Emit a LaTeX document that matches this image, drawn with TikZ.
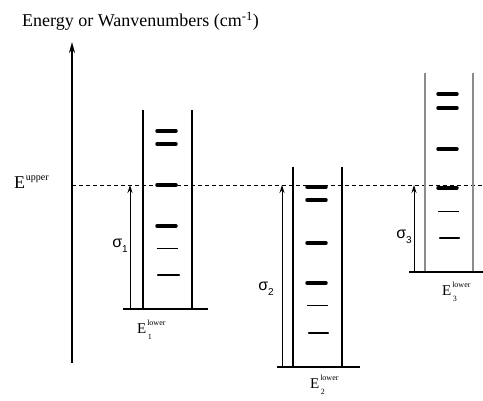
\documentclass[tikz,border=0pt]{standalone}
\usepackage{fontspec}
\setmainfont{Liberation Serif}
\newfontfamily\sansgr{Liberation Sans}
\usetikzlibrary{arrows.meta}
\newcommand{\sigmalab}[1]{{\sansgr\fontsize{16}{16}\selectfont σ\raisebox{-5pt}{\fontsize{10}{10}\selectfont #1}}}
\begin{document}
\begin{tikzpicture}[x=1pt,y=-1pt,
  wall/.style={line width=1.2pt},
  wallgrey/.style={line width=1.5pt, draw=black!45},
  baseline/.style={line width=1.2pt},
  thicklev/.style={line width=3.5pt, line cap=round},
  thinlev/.style={line width=1pt},
  medlev/.style={line width=2.4pt, line cap=round},
  trans/.style={line width=1pt, -{Stealth[length=8pt,width=5pt]}},
  axisarrow/.style={line width=1.8pt, -{Stealth[length=11pt,width=6pt]}},
  upperline/.style={line width=0.9pt, dash pattern=on 4pt off 3pt},
  lbl/.style={inner sep=0pt},
  bigE/.style={lbl, anchor=base west, font=\fontsize{15}{15}\selectfont},
  scriptlbl/.style={lbl, anchor=base west, font=\fontsize{8}{8}\selectfont},
]
\useasboundingbox (0,0) rectangle (483,401);
% title and axis
\node[lbl, anchor=base west] (title) at (22,27) {\fontsize{18}{20}\selectfont Energy or Wanvenumbers (cm\textsuperscript{-1})};
\coordinate (axb) at (72,363);
\coordinate (axt) at (72,42);
\draw[axisarrow] (axb) -- (axt);
% upper level
\node[lbl, anchor=base west] (eup) at (14,189) {\fontsize{18}{20}\selectfont E};
\node[lbl, anchor=base west, font=\fontsize{10}{10}\selectfont] (eupsup) at ([xshift=0.3pt,yshift=8pt]eup.base east) {upper};
\coordinate (dl) at (72,185);
\coordinate (dr) at (483,185);
\draw[upperline] (dl) -- (dr);

% column 1
\draw[wall] (143,110) -- (143,309);
\draw[wall] (192,110) -- (192,309);
\coordinate (b1l) at (123,309);
\coordinate (b1r) at (208,309);
\draw[baseline] (b1l) -- (b1r);
\foreach \y in {131,144,185,226} \draw[thicklev] (157,\y) -- (176,\y);
\draw[thinlev] (157,249) -- (178,249);
\draw[medlev] (158,275) -- (179,275);
\coordinate (a1s) at (130,309);
\coordinate (a1e) at (130,185);
\draw[trans] (a1s) -- (a1e);
\node[lbl] (s1) at (120,246) {\sigmalab{1}};
\node[bigE] (e1) at (137,334) {E};
\node[scriptlbl] (e1sup) at ([xshift=0.5pt,yshift=8pt]e1.base east) {lower};
\node[scriptlbl] (e1sub) at ([xshift=1pt,yshift=-6pt]e1.base east) {1};

% column 2
\draw[wall] (293,167) -- (293,367);
\draw[wall] (342,167) -- (342,367);
\coordinate (b2l) at (277,367);
\coordinate (b2r) at (360,367);
\draw[baseline] (b2l) -- (b2r);
\foreach \y in {187,200,243,283} \draw[thicklev] (307,\y) -- (326,\y);
\draw[thinlev] (307,306) -- (328,306);
\draw[medlev] (309,333) -- (328,333);
\coordinate (a2s) at (282,367);
\coordinate (a2e) at (282,185);
\draw[trans] (a2s) -- (a2e);
\node[lbl] (s2) at (266,289) {\sigmalab{2}};
\node[bigE] (e2) at (310,389) {E};
\node[scriptlbl] (e2sup) at ([xshift=0.5pt,yshift=8pt]e2.base east) {lower};
\node[scriptlbl] (e2sub) at ([xshift=1pt,yshift=-6pt]e2.base east) {2};

% column 3
\draw[wallgrey] (425,73) -- (425,272);
\draw[wallgrey] (473,73) -- (473,272);
\coordinate (b3l) at (409,272);
\coordinate (b3r) at (483,272);
\draw[baseline] (b3l) -- (b3r);
\foreach \y in {94,108,149,188} \draw[thicklev] (438,\y) -- (457,\y);
\draw[thinlev] (438,212) -- (459,212);
\draw[medlev] (440,238) -- (459,238);
\coordinate (a3s) at (414,272);
\coordinate (a3e) at (414,185);
\draw[trans] (a3s) -- (a3e);
\node[lbl] (s3) at (404,237) {\sigmalab{3}};
\node[bigE] (e3) at (442,296) {E};
\node[scriptlbl] (e3sup) at ([xshift=0.5pt,yshift=8pt]e3.base east) {lower};
\node[scriptlbl] (e3sub) at ([xshift=1pt,yshift=-6pt]e3.base east) {3};
\end{tikzpicture}
\end{document}
